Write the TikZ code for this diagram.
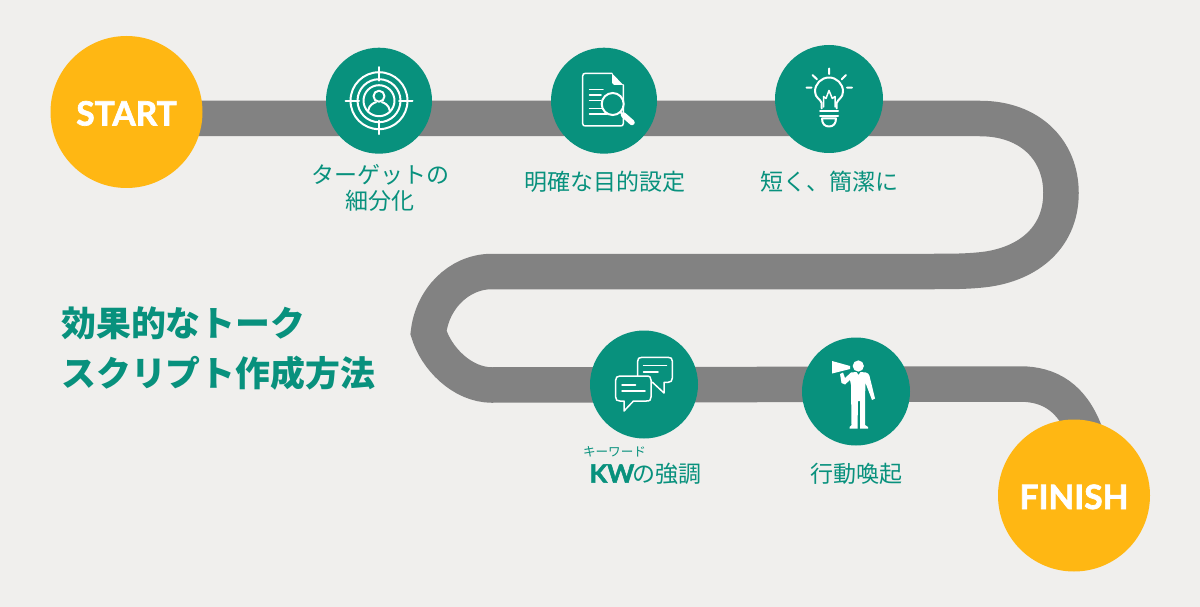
\documentclass[tikz,border=0pt]{standalone}
\usepackage{fontspec}
\setmainfont{Noto Sans CJK JP}
\newfontfamily\latinbold[UprightFont=* Bold,UprightFeatures={FakeBold=2}]{Lato}
\usetikzlibrary{calc}
\definecolor{bgc}{HTML}{F0EFED}
\definecolor{roadc}{HTML}{828282}
\definecolor{teal}{HTML}{08917D}
\definecolor{amber}{HTML}{FFB713}
\tikzset{
  x=1pt,y=-1pt,
  road/.style={draw=roadc,line width=35.5pt,line join=miter,miter limit=20},
  goal/.style={circle,fill=amber,minimum size=152pt,inner sep=0pt,text=white,font=\latinbold\fontsize{33.5}{38}\selectfont},
  stepdisc/.style={circle,fill=teal,minimum size=108pt,inner sep=0pt},
  smalldisc/.style={circle,fill=teal,minimum size=106pt,inner sep=0pt},
  lbl/.style={text=teal,font=\fontsize{23}{28}\selectfont,inner sep=0pt,align=center},
  head/.style={text=teal,font=\bfseries\fontsize{34.9}{40}\selectfont,inner sep=0pt,anchor=west},
  ico/.style={draw=white,line width=2pt,line cap=round,line join=round},
  icothin/.style={draw=white,line width=1.5pt,line cap=round,line join=round},
  icofill/.style={fill=white,draw=none},
}
\begin{document}
\begin{tikzpicture}
\useasboundingbox (0,0) rectangle (1200,607);
\fill[bgc] (0,0) rectangle (1200,607);
% nodes
\coordinate (r1) at (980,118.5);
\coordinate (r2) at (1061,193);
\coordinate (r3) at (980,270);
\coordinate (r4) at (930,271.5);
\coordinate (r5) at (492,271.5);
\coordinate (r6) at (428.5,332.5);
\coordinate (r7) at (492,385);
\coordinate (r8) at (1020,384);
\coordinate (r9) at (1085,432);
\coordinate (startc) at (126,118.5);
\coordinate (finishc) at (1079,495);
\draw[road] (startc) -- (r1)
  .. controls (1030,118.5) and (1061,150) .. (r2)
  .. controls (1061,240) and (1025,266) .. (r3)
  .. controls (965,271.5) and (950,271.5) .. (r4)
  -- (r5)
  .. controls (458,271.5) and (432,300) .. (r6)
  .. controls (436,358) and (462,385) .. (r7)
  -- (r8)
  .. controls (1050,384) and (1072,398) .. (r9)
  -- (finishc);
\node[goal] (start) at (126.5,112) {\smash{\raisebox{-13.5pt}{START}}};
\node[goal] (finish) at (1074,495.5) {\smash{\raisebox{-13.5pt}{FINISH}}};
\node[smalldisc] (s1) at (379,100.7) {};
\node[smalldisc] (s2) at (604,100.7) {};
\node[stepdisc] (s3) at (829,99) {};
\node[stepdisc] (s4) at (644,384.5) {};
\node[stepdisc] (s5) at (856,391.5) {};
% labels
\node[lbl] (t1a) at (380,174.5) {ターゲットの};
\node[lbl] (t1b) at (380,200.5) {細分化};
\node[lbl] (t2) at (604.5,181.5) {明確な目的設定};
\node[lbl] (t3) at (829,181.5) {短く、簡潔に};
\node[lbl] (t5) at (856,473.5) {行動喚起};
\node[text=teal,font=\fontsize{12.6}{14}\selectfont,inner sep=0pt] (t4r) at (614.5,451.5) {キーワード};
\node[lbl,anchor=east] (t4b) at (702,473.5) {の強調};
\node[text=teal,inner sep=0pt,anchor=east,font=\latinbold\fontsize{25}{30}\selectfont] (t4a) at (634.5,473.5) {\scalebox{1.03}[1]{KW}};
\node[head] (h1) at (61,323) {効果的なトーク};
\node[head] (h2) at (61,373) {スクリプト作成方法};
% icon 1: target
\begin{scope}[shift={(379,100.7)}]
  \draw[ico] (0,0) circle (28.5);
  \draw[ico] (0,0) circle (21.5);
  \draw[ico] (0,0) circle (15.5);
  \draw[ico] (-33.5,0) -- (-20,0) (20,0) -- (33.5,0) (0,-33.5) -- (0,-20) (0,20) -- (0,33.5);
  \draw[ico] (0,-4.5) circle (5.5);
  \draw[ico] (-11,10.5) .. controls (-10,4) and (-5,2) .. (-3,1.5) (3,1.5) .. controls (5,2) and (10,4) .. (11,10.5);
\end{scope}
% icon 2: document and magnifier
\draw[icothin] (612,73.3) -- (585.5,73.3) .. controls (583.5,73.3) and (582.7,74.5) .. (582.7,76) -- (582.7,123.5) .. controls (582.7,125.2) and (583.5,126) .. (585.5,126) -- (620.5,126) .. controls (622.3,126) and (623.3,125.2) .. (623.3,123.5) -- (623.3,85);
\fill[white] (612,73.3) -- (623.3,85) -- (614,85) -- (612,83) -- cycle;
\draw[icothin] (589.5,89.3) -- (603,89.3) (589.5,95) -- (601,95) (589.5,100.7) -- (601,100.7) (589.5,108.3) -- (603,108.3) (589.5,114) -- (607,114);
\draw[fill=teal,draw=white,line width=2pt] (612.7,104) circle (11);
\draw[white,line width=2pt] (620.5,112) -- (624,116);
\draw[white,line width=5.5pt,line cap=round] (623.5,115) -- (632,122.5);
% icon 3: bulb
\draw[ico] (821.7,108.3) -- (821.7,103) .. controls (820.5,99) and (815,98) .. (815,91.5) arc[start angle=180,end angle=360,radius=14] .. controls (843,98) and (837.9,99) .. (836.7,103) -- (836.7,108.3);
\draw[ico] (820,111) -- (838,111) (820,116) -- (838,116);
\draw[ico] (822,118.5) -- (836,118.5) .. controls (836,124) and (833,126.5) .. (829,126.5) .. controls (825,126.5) and (822,124) .. (822,118.5) -- cycle;
\draw[icothin] (823.5,107) -- (823.5,96.5) -- (826,98.5) -- (829,90.5) -- (832.3,98.5) -- (835,96.5) -- (835,107);
\draw[ico] (829,68.5) -- (829,74) (812.5,75) -- (817,79.3) (841.7,79.3) -- (846,75) (806.5,87.7) -- (811.5,87.7) (847,87.7) -- (852,87.7);
% icon 4: speech bubbles
\draw[icothin] (642,357.3) -- (668,357.3) .. controls (671,357.3) and (672.3,358.5) .. (672.3,361) -- (672.3,378) .. controls (672.3,381) and (671,382.3) .. (668,382.3) -- (664,382.3) -- (664,393) -- (652.5,382.3) -- (642,382.3) .. controls (639,382.3) and (637.7,381) .. (637.7,378) -- (637.7,361) .. controls (637.7,358.5) and (639,357.3) .. (642,357.3) -- cycle;
\draw[icothin] (643.5,365.7) -- (666.5,365.7) (643.5,372) -- (658,372);
\draw[icothin,fill=teal] (620,376) -- (646.5,376) .. controls (650,376) and (651,377.5) .. (651,380) -- (651,397) .. controls (651,400) and (650,401) .. (646.5,401) -- (633.5,401) -- (624,411) -- (624,401) -- (620,401) .. controls (617,401) and (615.7,400) .. (615.7,397) -- (615.7,380) .. controls (615.7,377.5) and (617,376) .. (620,376) -- cycle;
\draw[icothin] (622,385) -- (635.5,385) (622,391) -- (645,391);
% icon 5: person with megaphone
\fill[white] (832,361) -- (850,366) -- (850,369) -- (832,373.5) -- cycle;
\fill[white] (858.3,366) circle (5.6);
\fill[white] (851,372.5) -- (856.5,372) -- (858.5,375) -- (860.5,372) -- (866,372.5) .. controls (868,373) and (869,374) .. (869.5,376) -- (875,398.5) -- (872,400) -- (865.5,383) -- (865,398) -- (865,425) -- (868,427) -- (868,428.5) -- (860,428.5) -- (860,401) -- (858,401) -- (857.5,428.5) -- (849.5,428.5) -- (849.5,427) -- (851.5,425) -- (851,385) -- (850,380) -- (845,384.5) -- (841.5,383) -- (840,374) -- (843,372.5) -- (845,378) -- cycle;
\end{tikzpicture}
\end{document}
